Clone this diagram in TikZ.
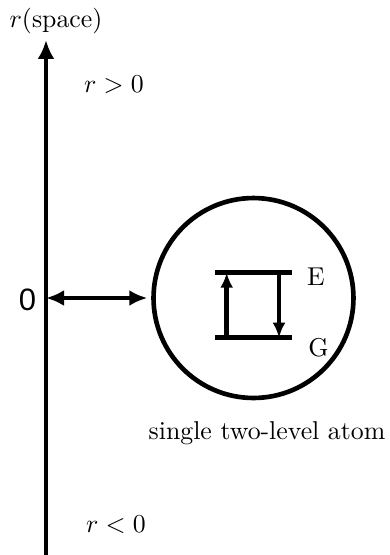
\documentclass[tikz,border=0pt]{standalone}
\usepackage{fontspec}
\newfontfamily\zerofont{Liberation Sans}
\usetikzlibrary{arrows.meta}

\begin{document}
\begin{tikzpicture}[x=0.3876pt,y=-0.3876pt,line width=1.8pt,
   axis/.style={-{Latex[length=7.3pt,width=6.5pt]}},
   link/.style={{Latex[length=7pt,width=6.2pt]}-{Latex[length=7pt,width=6.2pt]}},
   trans/.style={-{Latex[length=5.8pt,width=5pt]}},
   atombox/.style={circle,draw,inner sep=0pt,minimum size=77.5pt}]
\useasboundingbox (0,0) rectangle (390,555);
% the r axis
\coordinate (rbot) at (46,555);
\coordinate (rtop) at (46,40);
\coordinate (origin) at (46,298);
\draw[axis] (rbot) -- (rtop);
\node (rname) at (56,21) {$r$(space)};
\node (rpos) at (114,85) {$r>0$};
\node (rneg) at (116,525) {$r<0$};
\node (zero) at (27.5,300) {\zerofont\fontsize{12}{14}\selectfont 0};
% the atom
\node[atombox] (atom) at (253.5,298) {};
\node (atomname) at (267,433) {single two-level atom};
\draw[link,shorten >=1.5pt] (origin) -- (atom.west);
% levels
\foreach \lev/\y in {E/272.7,G/337.7} {
   \coordinate (\lev left) at (215,\y);
   \coordinate (\lev right) at (291.7,\y);
   \draw (\lev left) -- (\lev right);
}
\node (Ename) at (316,277) {E};
\node (Gname) at (318.5,348) {G};
\coordinate (upfrom) at (226.7,337.7);
\coordinate (upto) at (226.7,272.7);
\coordinate (downfrom) at (279,272.7);
\coordinate (downto) at (279,337.7);
\draw[trans] (upfrom) -- (upto);
\draw[trans] (downfrom) -- (downto);
\end{tikzpicture}
\end{document}
